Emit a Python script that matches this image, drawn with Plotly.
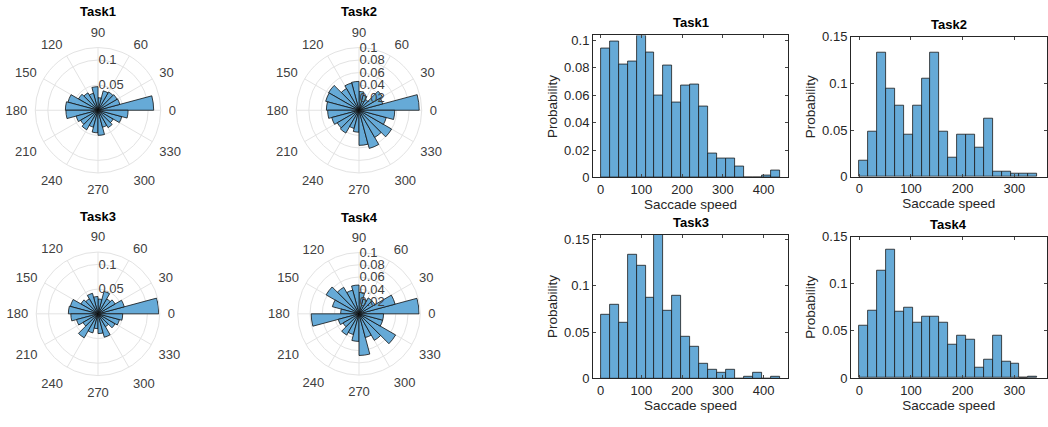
import numpy as np
import plotly.graph_objects as go

# ---------------- data ----------------
titles = ["Task1", "Task2", "Task3", "Task4"]

# polar histograms: 24 direction bins of 15 degrees, starting at 0 deg
n_dir_bins = 24
dir_task1 = [0.111, 0.045, 0.044, 0.042, 0.040, 0.025, 0.047, 0.035, 0.040, 0.045, 0.062, 0.065,
             0.064, 0.045, 0.040, 0.045, 0.035, 0.045, 0.050, 0.035, 0.040, 0.035, 0.049, 0.060]
dir_task2 = [0.096, 0.039, 0.043, 0.020, 0.025, 0.030, 0.046, 0.045, 0.040, 0.056, 0.055, 0.052,
             0.050, 0.045, 0.040, 0.042, 0.030, 0.035, 0.056, 0.063, 0.050, 0.060, 0.045, 0.057]
dir_task3 = [0.123, 0.055, 0.040, 0.035, 0.047, 0.030, 0.035, 0.043, 0.035, 0.040, 0.058, 0.060,
             0.055, 0.045, 0.035, 0.056, 0.040, 0.030, 0.040, 0.049, 0.030, 0.040, 0.045, 0.050]
dir_task4 = [0.098, 0.061, 0.030, 0.030, 0.025, 0.035, 0.047, 0.040, 0.050, 0.062, 0.045, 0.030,
             0.078, 0.035, 0.030, 0.040, 0.035, 0.045, 0.068, 0.040, 0.050, 0.069, 0.040, 0.040]
dir_rmax = [0.125, 0.1, 0.125, 0.1]
dir_rticks = [[0.05, 0.1], [0.02, 0.04, 0.06, 0.08, 0.1], [0.05, 0.1], [0.02, 0.04, 0.06, 0.08, 0.1]]
theta_ticks = list(range(0, 360, 30))

# speed histograms (probability), 20 bins each
speed_binwidth = [22.0, 17.2, 22.0, 17.2]
speed_task1 = [0.094, 0.0993, 0.0827, 0.0843, 0.1035, 0.0913, 0.060, 0.0817, 0.0546, 0.067,
               0.068, 0.0515, 0.0176, 0.0138, 0.0138, 0.0084, 0.0, 0.0, 0.0014, 0.005]
speed_task2 = [0.0169, 0.048, 0.1325, 0.094, 0.076, 0.0447, 0.076, 0.1046, 0.1325, 0.048,
               0.0203, 0.0447, 0.0447, 0.0313, 0.0626, 0.0058, 0.0058, 0.003, 0.003, 0.003]
speed_task3 = [0.0688, 0.080, 0.060, 0.133, 0.1215, 0.0868, 0.155, 0.0736, 0.0896, 0.0455,
               0.0347, 0.0163, 0.009, 0.0066, 0.009, 0.0, 0.002, 0.0066, 0.0, 0.002]
speed_task4 = [0.0558, 0.0719, 0.1134, 0.136, 0.0699, 0.0743, 0.0586, 0.0654, 0.0654, 0.0586,
               0.0356, 0.0449, 0.0404, 0.011, 0.0199, 0.0449, 0.0178, 0.0154, 0.0, 0.0017]
speed_xticks = [[0, 100, 200, 300, 400], [0, 100, 200, 300], [0, 100, 200, 300, 400], [0, 100, 200, 300]]
speed_yticks = [[0, 0.02, 0.04, 0.06, 0.08, 0.1], [0, 0.05, 0.1, 0.15], [0, 0.05, 0.1, 0.15], [0, 0.05, 0.1, 0.15]]
speed_yticktext = [["0", "0.02", "0.04", "0.06", "0.08", "0.1"], ["0", "0.05", "0.1", "0.15"],
                   ["0", "0.05", "0.1", "0.15"], ["0", "0.05", "0.1", "0.15"]]

dir_data = [dir_task1, dir_task2, dir_task3, dir_task4]
speed_data = [speed_task1, speed_task2, speed_task3, speed_task4]

# ---------------- style / layout ----------------
W, H = 1048, 427
FONT = "Liberation Sans, Arial, sans-serif"
BAR = "#66aad7"
AX = "#262626"
GRID = "#e3e3e3"

def px_x(a, b):
    return [a / W, b / W]

def px_y(top, bottom):
    return [1 - bottom / H, 1 - top / H]

polar_dom = [
    (px_x(33, 163), px_y(42, 172)),
    (px_x(294, 424), px_y(42, 172)),
    (px_x(34, 162), px_y(254, 382)),
    (px_x(295.5, 422.5), px_y(254.5, 381.5)),
]
hist_dom = [
    (px_x(593, 788), px_y(29.5, 176.7)),
    (px_x(851, 1046.5), px_y(30.7, 176)),
    (px_x(593, 788), px_y(236, 385)),
    (px_x(851, 1046.5), px_y(238, 384.5)),
]
hist_xrange = [[-19, 460], [-16, 362], [-19, 460], [-16, 362]]

fig = go.Figure()
layout = dict(width=W, height=H, margin=dict(l=0, r=0, t=0, b=0),
              paper_bgcolor="white", plot_bgcolor="white", showlegend=False,
              font=dict(family=FONT, size=13, color=AX))
annotations = []

width_deg = 360 / n_dir_bins
theta_centers = [width_deg * (k + 0.5) for k in range(n_dir_bins)]

for i in range(4):
    pk = "polar" if i == 0 else f"polar{i+1}"
    fig.add_trace(go.Barpolar(
        r=dir_data[i], theta=theta_centers, width=[width_deg] * n_dir_bins,
        marker=dict(color=BAR, line=dict(color="#111111", width=0.8)),
        subplot=pk, hoverinfo="skip"))
    dx, dy = polar_dom[i]
    layout[pk] = dict(
        domain=dict(x=dx, y=dy), bgcolor="white", hole=0,
        angularaxis=dict(direction="counterclockwise", rotation=0,
                         tickvals=theta_ticks, ticktext=[str(t) for t in theta_ticks],
                         ticks="outside", ticklen=5, tickcolor="rgba(0,0,0,0)",
                         showline=True, linecolor=GRID, linewidth=1,
                         gridcolor=GRID, gridwidth=1,
                         tickfont=dict(family=FONT, size=13, color="#404040")),
        radialaxis=dict(range=[0, dir_rmax[i]], tickvals=dir_rticks[i],
                        ticktext=[f"{v:g}" for v in dir_rticks[i]],
                        angle=90, tickangle=90, side="clockwise",
                        showline=False, ticks="",
                        gridcolor=GRID, gridwidth=1,
                        tickfont=dict(family=FONT, size=13, color="#404040")),
    )
    cx = (dx[0] + dx[1]) / 2
    annotations.append(dict(text=f"<b>{titles[i]}</b>", x=cx, y=dy[1] + 27 / H,
                            xref="paper", yref="paper", showarrow=False,
                            xanchor="center", yanchor="bottom",
                            font=dict(family=FONT, size=13, color="#000000")))

for i in range(4):
    n = len(speed_data[i])
    bw = speed_binwidth[i]
    centers = [bw * (k + 0.5) for k in range(n)]
    xa = "x" if i == 0 else f"x{i+1}"
    ya = "y" if i == 0 else f"y{i+1}"
    fig.add_trace(go.Bar(x=centers, y=speed_data[i], width=[bw] * n,
                         marker=dict(color=BAR, line=dict(color="#1a1a1a", width=0.8)),
                         xaxis=xa, yaxis=ya, hoverinfo="skip"))
    dx, dy = hist_dom[i]
    xk = "xaxis" if i == 0 else f"xaxis{i+1}"
    yk = "yaxis" if i == 0 else f"yaxis{i+1}"
    ymax = max(speed_data[i]) if i != 1 and i != 3 else 0.15
    layout[xk] = dict(domain=dx, anchor=ya, range=hist_xrange[i],
                      tickvals=speed_xticks[i], ticks="inside", ticklen=3,
                      showline=True, linecolor=AX, linewidth=1, mirror="allticks",
                      showgrid=False, zeroline=False,
                      tickfont=dict(family=FONT, size=13, color=AX),
                      title=dict(text="Saccade speed", standoff=2,
                                 font=dict(family=FONT, size=13.5, color=AX)))
    layout[yk] = dict(domain=dy, anchor=xa, range=[0, ymax],
                      tickvals=speed_yticks[i], ticktext=speed_yticktext[i],
                      ticks="inside", ticklen=3,
                      showline=True, linecolor=AX, linewidth=1, mirror="allticks",
                      showgrid=False, zeroline=False,
                      tickfont=dict(family=FONT, size=13, color=AX),
                      title=dict(text="Probability", standoff=3,
                                 font=dict(family=FONT, size=13.5, color=AX)))
    annotations.append(dict(text=f"<b>{titles[i]}</b>", x=(dx[0] + dx[1]) / 2, y=dy[1],
                            xref="paper", yref="paper", showarrow=False,
                            xanchor="center", yanchor="bottom", yshift=3,
                            font=dict(family=FONT, size=13, color="#000000")))

layout["annotations"] = annotations
layout["bargap"] = 0
fig.update_layout(**layout)
fig.write_html("out.html")
